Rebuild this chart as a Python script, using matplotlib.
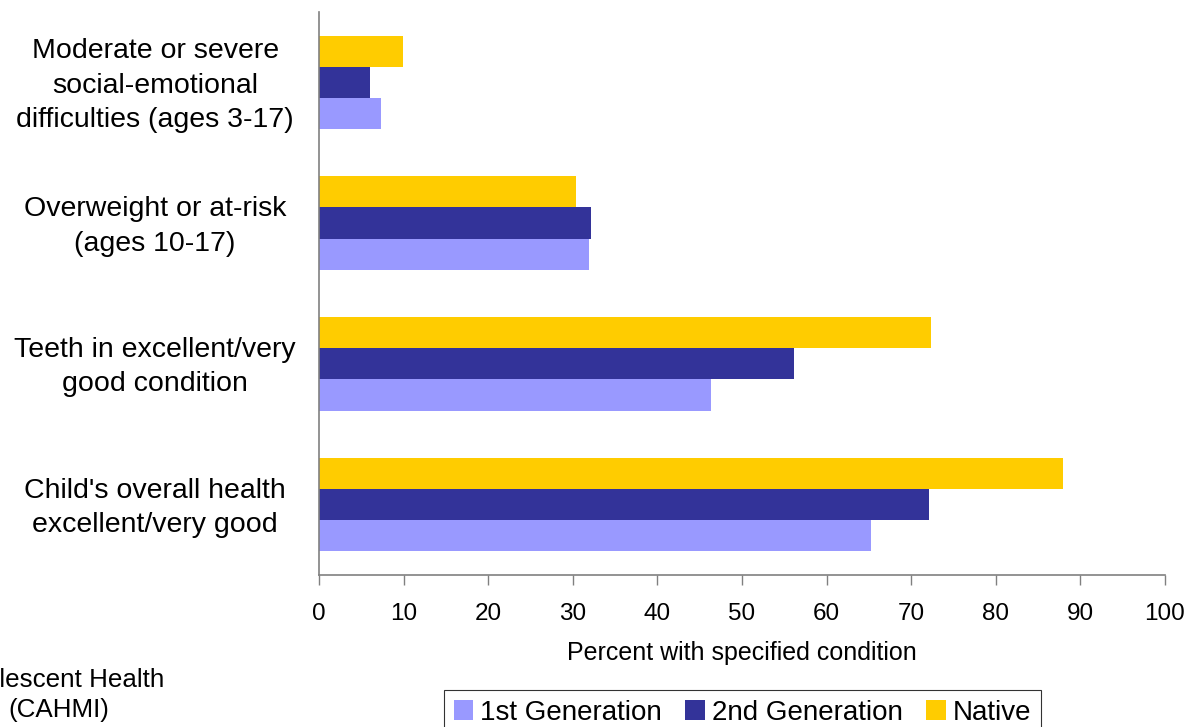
import matplotlib.pyplot as plt  # Para la grafica de barras horizontales
import matplotlib.transforms as mtransforms
import numpy as np

plt.rcParams['font.family'] = ['Liberation Sans', 'DejaVu Sans']

# Condiciones (de abajo hacia arriba) y porcentajes por grupo
condiciones = [
    "Child's overall health\nexcellent/very good",
    "Teeth in excellent/very\ngood condition",
    "Overweight or at-risk\n(ages 10-17)",
    "Moderate or severe\nsocial-emotional\ndifficulties (ages 3-17)",
]
primera_gen = [65.2, 46.3, 31.9, 7.3]
segunda_gen = [72.1, 56.1, 32.2, 6.0]
nativos = [88.0, 72.4, 30.4, 9.9]

series = ['1st Generation', '2nd Generation', 'Native']
colores = ['#9999FF', '#333399', '#FFCC00']
ticks_x = [0, 10, 20, 30, 40, 50, 60, 70, 80, 90, 100]

fig = plt.figure(figsize=(11.89, 7.27), dpi=100)
ax = fig.add_axes([0.2683, 0.2091, 0.7115, 0.7744])

y = np.arange(len(condiciones))
alto = 0.222
for k, (valores, nombre, color) in enumerate(zip([primera_gen, segunda_gen, nativos], series, colores)):
    ax.barh(y + (k - 1) * alto, valores, height=alto, color=color, label=nombre)

ax.set_xlim(0, 100)
ax.set_ylim(-0.5, 3.5)
ax.set_xticks(ticks_x)
ax.set_xticklabels([str(t) for t in ticks_x], fontsize=17.5)
ax.tick_params(axis='x', direction='out', length=7, width=1, color='#808080', pad=13)

# Etiquetas de categoria centradas a la izquierda del eje
ax.set_yticks(y)
ax.set_yticklabels(condiciones, fontsize=20.5, ha='center', multialignment='center',
                   linespacing=1.42)
ax.tick_params(axis='y', length=0, pad=118)
subir = mtransforms.ScaledTranslation(0, 4 / 100, fig.dpi_scale_trans)  # un poco hacia arriba
for etiqueta in ax.get_yticklabels():
    etiqueta.set_transform(etiqueta.get_transform() + subir)

ax.set_xlabel('Percent with specified condition', fontsize=18, labelpad=12)

for lado in ['top', 'right']:
    ax.spines[lado].set_visible(False)
for lado in ['left', 'bottom']:
    ax.spines[lado].set_color('#808080')
    ax.spines[lado].set_linewidth(1.2)

# Leyenda abajo, en una fila
leyenda = fig.legend(loc='upper left', bbox_to_anchor=(0.3734, 0.0509), ncol=3,
                     fontsize=20, frameon=True, fancybox=False, shadow=False,
                     handlelength=0.7, handleheight=0.7, handletextpad=0.25,
                     columnspacing=0.85, borderpad=0.35, borderaxespad=0)
leyenda.get_frame().set_edgecolor('#000000')
leyenda.get_frame().set_linewidth(0.8)

# Nota de la fuente de los datos
fig.text(58.5 / 1189, 1 - 695 / 727, 'Adolescent Health\n(CAHMI)', fontsize=18.7,
         ha='center', va='center', multialignment='center', linespacing=1.35)

plt.savefig('out.png', dpi=100)
